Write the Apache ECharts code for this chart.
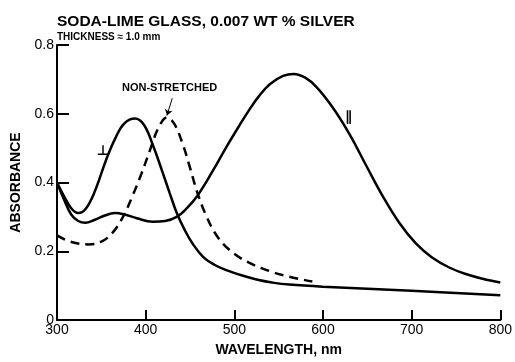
<!DOCTYPE html>
<html>
<head>
<meta charset="utf-8">
<script src="https://cdn.jsdelivr.net/npm/echarts@6/dist/echarts.min.js"></script>
<style>
html, body { margin: 0; padding: 0; background: #fff; }
#chart { width: 515px; height: 362px; }
</style>
</head>
<body>
<div id="chart"></div>
<script>
// 垂直方向 (⊥)
var perpWl  = [300, 308, 316, 324, 332, 342, 356, 366, 376, 388, 398, 408, 419, 427, 435, 444, 453, 465, 478, 491, 508, 525, 545, 562, 600, 700, 800];
var perpAbs = [0.40, 0.36, 0.325, 0.311, 0.322, 0.37, 0.47, 0.53, 0.572, 0.586, 0.568, 0.51, 0.43, 0.37, 0.312, 0.262, 0.222, 0.183, 0.16, 0.145, 0.13, 0.118, 0.108, 0.103, 0.097, 0.085, 0.072];

// 平行方向 (∥)
var paraWl  = [300, 308, 316, 324, 332, 342, 354, 365, 376, 390, 408, 422, 435, 446, 458, 476, 491, 506, 517, 528, 540, 555, 567, 580, 593, 611, 630, 649, 667, 686, 705, 723, 743, 762, 780, 800];
var paraAbs = [0.40, 0.35, 0.307, 0.288, 0.283, 0.291, 0.304, 0.311, 0.307, 0.296, 0.286, 0.288, 0.30, 0.324, 0.36, 0.435, 0.503, 0.567, 0.612, 0.652, 0.686, 0.71, 0.716, 0.705, 0.677, 0.618, 0.54, 0.448, 0.362, 0.283, 0.222, 0.182, 0.152, 0.133, 0.12, 0.109];

// 未拉伸
var nonWl  = [300, 315, 335, 350, 362, 374, 385, 395, 405, 415, 424, 432, 442, 450, 458, 468, 480, 495, 514, 540, 562, 588];
var nonAbs = [0.246, 0.228, 0.22, 0.228, 0.252, 0.298, 0.36, 0.424, 0.495, 0.562, 0.589, 0.572, 0.51, 0.443, 0.373, 0.305, 0.246, 0.203, 0.17, 0.142, 0.126, 0.112];

var xTicks = [300, 400, 500, 600, 700, 800];
var yTicks = [0, 0.2, 0.4, 0.6, 0.8];

function pairs(xs, ys) {
    var out = [];
    for (var i = 0; i < xs.length; i++) {
        out.push([xs[i], ys[i]]);
    }
    return out;
}

// 曲线上的文字标注
function note(x, y, text, size, family) {
    return {
        symbol: 'rect',
        symbolSize: 1,
        itemStyle: { color: 'rgba(0,0,0,0)' },
        label: {
            show: true, position: 'inside', formatter: text,
            color: '#000', fontFamily: family, fontSize: size, fontWeight: 'bold'
        },
        data: [{ coord: [x, y] }]
    };
}

var chart = echarts.init(document.getElementById('chart'), null, { renderer: 'canvas' });

var font = 'Liberation Sans, Arial, sans-serif';

var option = {
    animation: false,
    backgroundColor: '#fff',
    title: [{
        text: 'SODA-LIME GLASS, 0.007 WT % SILVER',
        left: 52,
        top: 9,
        textStyle: { fontFamily: font, fontSize: 15.5, fontWeight: 'bold', color: '#000' }
    }, {
        text: 'THICKNESS ≈ 1.0 mm',
        left: 52,
        top: 27,
        textStyle: { fontFamily: font, fontSize: 10, fontWeight: 'bold', color: '#000' }
    }],
    grid: { left: 57, right: 14, top: 45, bottom: 36 },
    xAxis: {
        type: 'value',
        min: xTicks[0],
        max: xTicks[xTicks.length - 1],
        interval: 100,
        name: 'WAVELENGTH, nm',
        nameLocation: 'middle',
        nameGap: 23,
        nameTextStyle: { fontFamily: font, fontSize: 14, fontWeight: 'bold', color: '#000' },
        axisLine: { lineStyle: { color: '#000', width: 2 } },
        axisTick: { inside: true, length: 10, lineStyle: { color: '#000', width: 2 } },
        axisLabel: { fontFamily: font, fontSize: 14, color: '#000', margin: 3 },
        splitLine: { show: false }
    },
    yAxis: {
        type: 'value',
        min: yTicks[0],
        max: yTicks[yTicks.length - 1],
        interval: 0.2,
        name: 'ABSORBANCE',
        nameLocation: 'middle',
        nameGap: 33,
        nameTextStyle: { fontFamily: font, fontSize: 14, fontWeight: 'bold', color: '#000' },
        axisLine: { show: true, lineStyle: { color: '#000', width: 2 } },
        axisTick: { show: true, inside: true, length: 12, lineStyle: { color: '#000', width: 2 } },
        axisLabel: {
            fontFamily: font, fontSize: 14, color: '#000', margin: 3,
            formatter: function (v) { return v === 0 ? '0' : v.toFixed(1); }
        },
        splitLine: { show: false }
    },
    series: [{
        name: '⊥',
        type: 'line',
        smooth: 0.4,
        symbol: 'none',
        data: pairs(perpWl, perpAbs),
        lineStyle: { color: '#000', width: 2.5 },
        markPoint: note(352, 0.49, '⊥', 14, 'DejaVu Sans')
    }, {
        name: '∥',
        type: 'line',
        smooth: 0.4,
        symbol: 'none',
        data: pairs(paraWl, paraAbs),
        lineStyle: { color: '#000', width: 2.5 },
        markPoint: note(629, 0.59, '∥', 14, 'DejaVu Sans')
    }, {
        name: 'NON-STRETCHED',
        type: 'line',
        smooth: 0.4,
        symbol: 'none',
        data: pairs(nonWl, nonAbs),
        lineStyle: { color: '#000', width: 2.5, type: [9, 6] },
        markPoint: note(427, 0.676, 'NON-STRETCHED', 11, font),
        markLine: {
            silent: true,
            symbol: ['none', 'arrow'],
            symbolSize: 6,
            label: { show: false },
            lineStyle: { color: '#000', width: 1, type: 'solid' },
            data: [[{ coord: [430, 0.645] }, { coord: [424, 0.595] }]]
        }
    }]
};

chart.setOption(option);
</script>
</body>
</html>
